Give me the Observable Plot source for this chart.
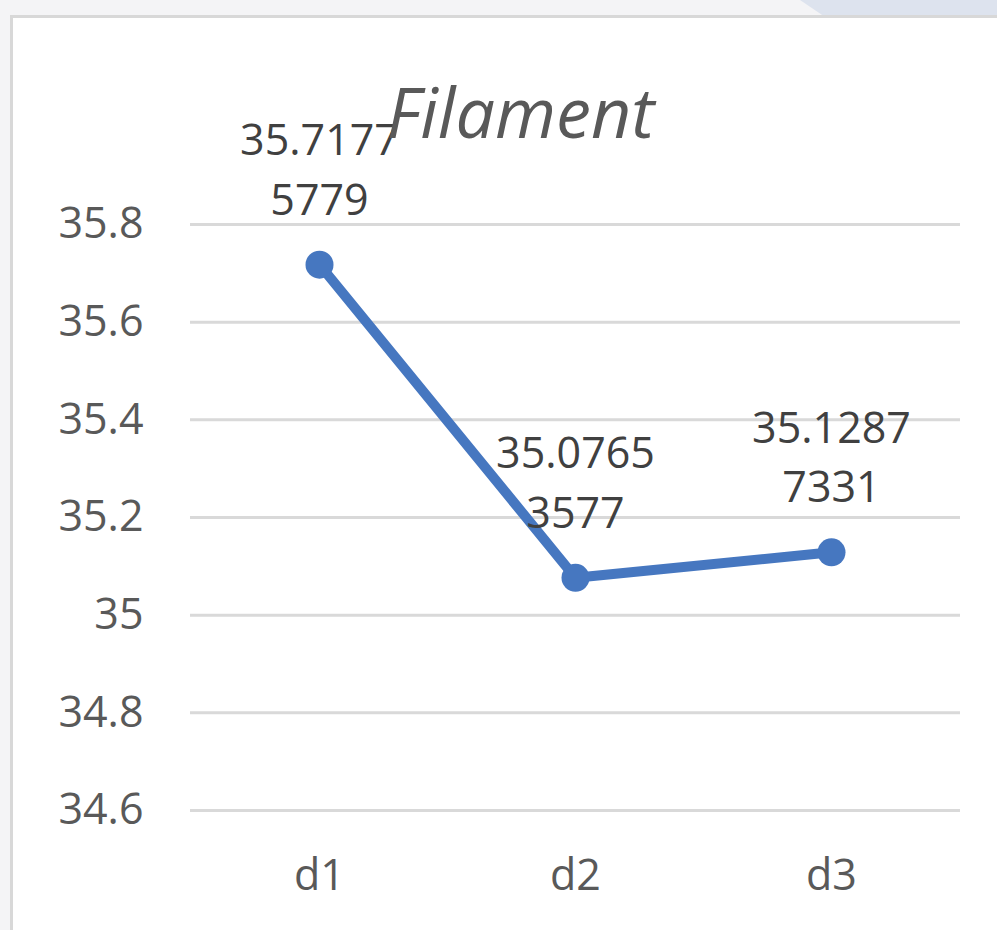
<!DOCTYPE html>
<html>
<head>
<meta charset="utf-8">
<script src="https://cdn.jsdelivr.net/npm/d3@7"></script>
<script src="https://cdn.jsdelivr.net/npm/@observablehq/plot@0.6"></script>
<style>
  html, body { margin: 0; padding: 0; }
  body { width: 997px; height: 930px; background: #f4f4f6; position: relative; overflow: hidden; font-family: "Open Sans", sans-serif; }
  #blue { position: absolute; left: 800px; top: 0; width: 197px; height: 16px; background: #dde3ee; clip-path: polygon(0 0, 100% 0, 100% 100%, 12% 100%); }
  #box { position: absolute; left: 10px; top: 15px; width: 987px; height: 915px; background: #ffffff; border-left: 3px solid #d8d8d8; border-top: 3px solid #d8d8d8; box-sizing: border-box; }
  #chart { position: absolute; left: 0; top: 0; }
</style>
</head>
<body>
<div id="blue"></div>
<div id="box"></div>
<div id="chart"></div>
<script>
const categories = ["d1", "d2", "d3"];
const values = [35.71775779, 35.07653577, 35.12877331];
const yTicks = [34.6, 34.8, 35, 35.2, 35.4, 35.6, 35.8];
const title = "Filament";

const data = categories.map((c, i) => ({cat: c, value: values[i]}));
const labelOf = v => { const s = String(v); return s.slice(0, 7) + "\n" + s.slice(7); };

const chart = Plot.plot({
  width: 997,
  height: 930,
  marginLeft: 190,
  marginRight: 37,
  marginTop: 224,
  marginBottom: 120,
  style: {background: "transparent", fontFamily: "Open Sans, sans-serif", overflow: "visible"},
  x: {type: "band", domain: categories, padding: 0, label: null},
  y: {domain: [34.6, 35.8], label: null},
  marks: [
    Plot.ruleY(yTicks, {stroke: "#d9d9d9", strokeWidth: 3}),
    Plot.axisY({ticks: yTicks, tickSize: 0, tickPadding: 47, label: null, fontSize: 43, fill: "#595959", tickFormat: d => String(+d.toFixed(1))}),
    Plot.axisX({tickSize: 0, tickPadding: 49, label: null, fontSize: 43, fill: "#595959"}),
    Plot.line(data, {x: "cat", y: "value", stroke: "#4677c0", strokeWidth: 10, strokeLinejoin: "round"}),
    Plot.dot(data, {x: "cat", y: "value", r: 14, fill: "#4677c0", stroke: "none"}),
    Plot.text(data, {x: "cat", y: "value", text: d => labelOf(d.value), lineAnchor: "bottom", dy: -50, fontSize: 43, lineHeight: 1.38, fill: "#404040"}),
    Plot.text([title], {frameAnchor: "top", text: d => d, dx: -55, dy: -136, lineAnchor: "top", fontSize: 70, fontStyle: "italic", fill: "#595959"})
  ]
});
document.getElementById("chart").appendChild(chart);
</script>
</body>
</html>
